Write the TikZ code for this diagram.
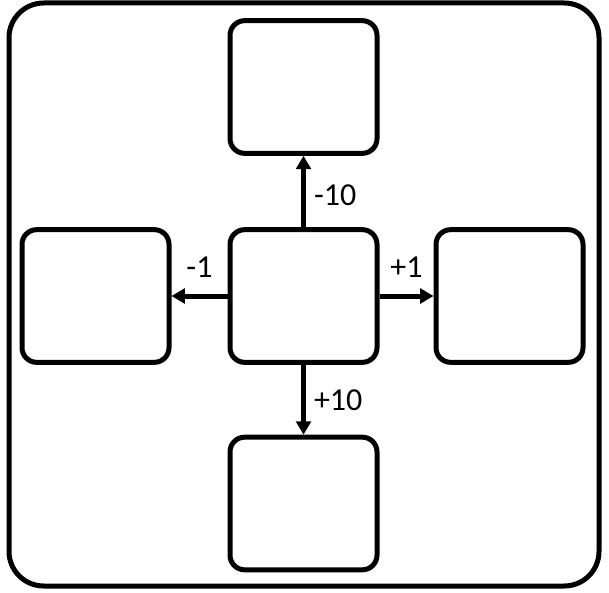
\documentclass[tikz,border=0pt]{standalone}
\usepackage{fontspec}
\setmainfont{Carlito}
\usetikzlibrary{arrows.meta}

\begin{document}
\begin{tikzpicture}[x=0.75pt, y=-0.75pt,
    cell/.style={draw, line width=3.75pt, rounded corners=11pt, fill=white,
        minimum width=110.25pt, minimum height=99.5pt, inner sep=0pt},
    link/.style={line width=3.75pt, -{Triangle[width=11pt, length=10pt]}},
    lbl/.style={font=\fontsize{24}{28}\selectfont, inner sep=6pt}]
    \useasboundingbox (0,0) rectangle (609,592);

    % Outer frame round the whole grid
    \draw[line width=3.75pt, rounded corners=26pt] (9,3) rectangle (599,586);

    % The centre cell and its four neighbours
    \node[cell] (ctr) at (303.5,296) {};
    \node[cell] (up) at (303.5,87) {};
    \node[cell] (down) at (303.5,503.5) {};
    \node[cell] (lft) at (95.5,296) {};
    \node[cell] (rgt) at (509.5,296) {};

    % Moves from the centre cell
    \draw[link] (ctr) -- node[lbl, right, pos=0.45] {-10} (up);
    \draw[link] (ctr) -- node[lbl, right] {+10} (down);
    \draw[link] (ctr) -- node[lbl, above=6pt] {-1} (lft);
    \draw[link] (ctr) -- node[lbl, above=6pt] {+1} (rgt);
\end{tikzpicture}
\end{document}
